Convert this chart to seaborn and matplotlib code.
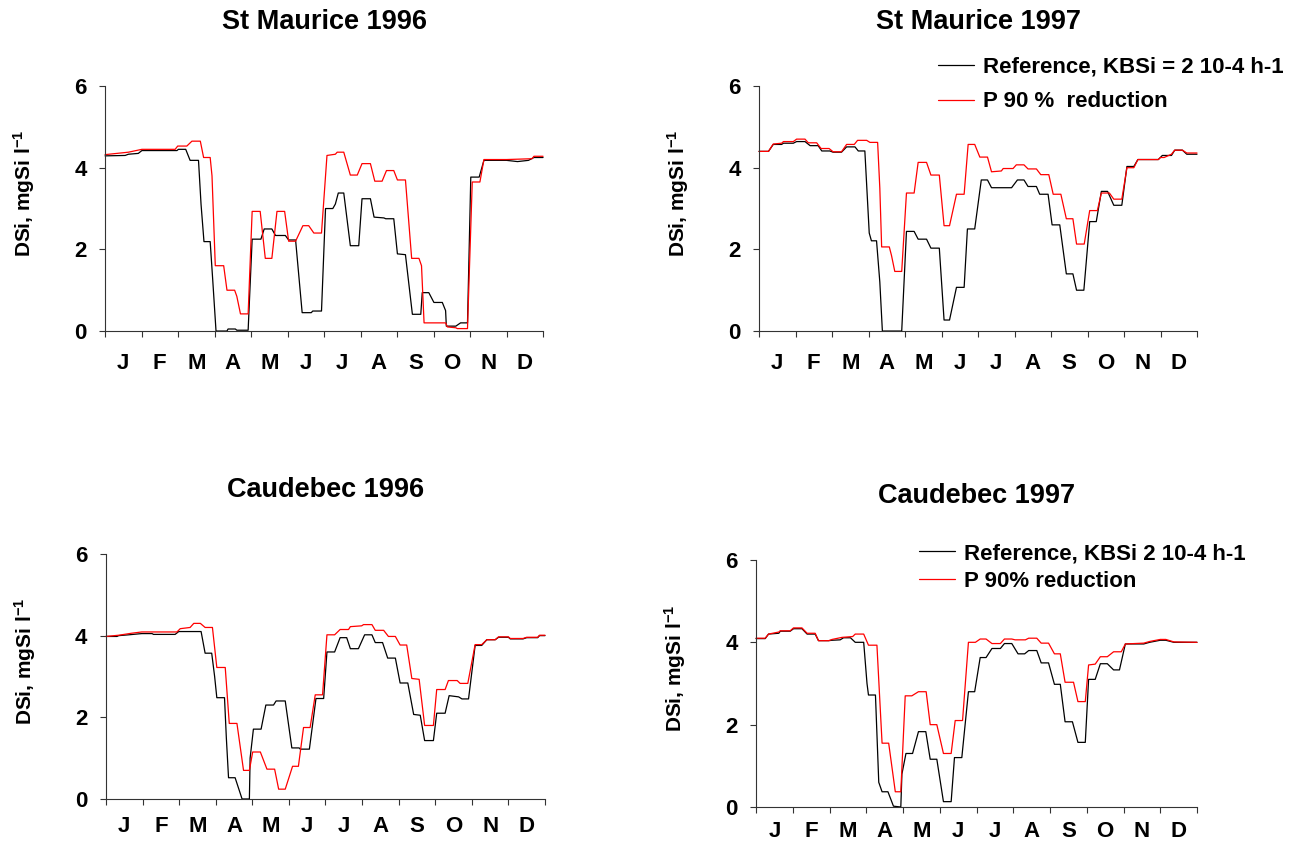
'''
DSi simulations, St Maurice / Caudebec, 1996-1997
'''

import matplotlib.pyplot as plt
import seaborn as sns

months = ['J', 'F', 'M', 'A', 'M', 'J', 'J', 'A', 'S', 'O', 'N', 'D']

# time in months from 1 January, DSi in mgSi/l

# St Maurice 1996
sm96_ref_t = [0, 0.55, 0.64, 0.91, 1.01, 1.97, 2.01, 2.21, 2.33, 2.56, 2.63, 2.71, 2.88, 2.95, 3.04,
              3.34, 3.37, 3.57, 3.61, 3.92, 4.03, 4.27, 4.36, 4.57, 4.67, 4.94, 5.03, 5.22, 5.40, 5.65,
              5.69, 5.93, 6.04, 6.24, 6.31, 6.39, 6.54, 6.72, 6.95, 7.04, 7.27, 7.37, 7.64, 7.69, 7.91,
              8.01, 8.23, 8.42, 8.65, 8.69, 8.87, 9.01, 9.24, 9.33, 9.35, 9.61, 9.74, 9.93, 10.02, 10.25,
              10.38, 11.0, 11.3, 11.6, 11.75, 12]
sm96_ref = [4.29, 4.30, 4.33, 4.35, 4.42, 4.42, 4.45, 4.45, 4.18, 4.18, 3.1, 2.19, 2.19, 1.25, 0,
            0, 0.05, 0.05, 0.02, 0.02, 2.25, 2.25, 2.5, 2.5, 2.34, 2.34, 2.23, 2.23, 0.45, 0.45,
            0.49, 0.49, 3.0, 3.0, 3.11, 3.38, 3.38, 2.09, 2.09, 3.24, 3.24, 2.79, 2.77, 2.75, 2.75,
            1.89, 1.87, 0.41, 0.41, 0.94, 0.94, 0.70, 0.70, 0.5, 0.12, 0.12, 0.2, 0.2, 3.77, 3.77,
            4.18, 4.18, 4.15, 4.18, 4.25, 4.25]
sm96_p90_t = [0, 0.32, 0.64, 1.01, 1.92, 1.99, 2.24, 2.38, 2.61, 2.70, 2.88, 2.93, 3.02, 3.25, 3.34,
              3.55, 3.61, 3.71, 3.92, 4.03, 4.25, 4.39, 4.57, 4.71, 4.92, 5.03, 5.22, 5.42, 5.58, 5.72,
              5.93, 6.08, 6.31, 6.36, 6.54, 6.72, 6.91, 7.04, 7.27, 7.39, 7.59, 7.71, 7.91, 8.01, 8.23,
              8.40, 8.60, 8.67, 8.74, 9.33, 9.38, 9.61, 9.65, 9.93, 10.06, 10.27, 10.38, 11.0, 11.7, 11.75,
              12]
sm96_p90 = [4.32, 4.35, 4.38, 4.45, 4.45, 4.53, 4.53, 4.65, 4.65, 4.25, 4.25, 3.8, 1.6, 1.6, 1.0,
            1.0, 0.85, 0.42, 0.42, 2.93, 2.93, 1.78, 1.78, 2.93, 2.93, 2.2, 2.2, 2.58, 2.58, 2.4,
            2.4, 4.3, 4.33, 4.38, 4.38, 3.82, 3.82, 4.1, 4.1, 3.67, 3.67, 3.93, 3.93, 3.7, 3.7,
            1.78, 1.78, 1.6, 0.2, 0.2, 0.1, 0.08, 0.06, 0.06, 3.65, 3.65, 4.2, 4.2, 4.22, 4.28,
            4.28]

# St Maurice 1997
sm97_ref_t = [0, 0.26, 0.39, 0.62, 0.67, 0.94, 1.03, 1.26, 1.40, 1.62, 1.72, 1.94, 2.03, 2.26, 2.40,
              2.63, 2.72, 2.90, 3.02, 3.08, 3.22, 3.31, 3.38, 3.91, 4.04, 4.25, 4.36, 4.59, 4.71, 4.94,
              5.07, 5.22, 5.41, 5.62, 5.71, 5.91, 6.09, 6.26, 6.37, 6.92, 7.08, 7.26, 7.37, 7.60, 7.69,
              7.92, 8.03, 8.24, 8.42, 8.60, 8.70, 8.90, 9.06, 9.24, 9.38, 9.55, 9.72, 9.94, 10.08, 10.27,
              10.38, 10.94, 11.05, 11.3, 11.39, 11.6, 11.72, 12]
sm97_ref = [4.40, 4.40, 4.57, 4.57, 4.60, 4.60, 4.64, 4.64, 4.54, 4.54, 4.41, 4.41, 4.38, 4.38, 4.51,
            4.51, 4.41, 4.41, 2.4, 2.21, 2.21, 1.2, 0, 0, 2.44, 2.44, 2.25, 2.25, 2.03, 2.03,
            0.27, 0.27, 1.07, 1.07, 2.5, 2.5, 3.7, 3.7, 3.51, 3.51, 3.7, 3.7, 3.54, 3.54, 3.35,
            3.35, 2.6, 2.6, 1.4, 1.4, 1.0, 1.0, 2.68, 2.68, 3.42, 3.42, 3.08, 3.08, 4.03, 4.03,
            4.2, 4.2, 4.3, 4.3, 4.43, 4.43, 4.33, 4.33]
sm97_p90_t = [0, 0.26, 0.39, 0.62, 0.67, 0.94, 1.03, 1.26, 1.35, 1.58, 1.70, 1.92, 2.03, 2.26, 2.40,
              2.61, 2.70, 2.95, 3.04, 3.25, 3.31, 3.36, 3.57, 3.63, 3.72, 3.91, 4.04, 4.25, 4.36, 4.59,
              4.71, 4.94, 5.07, 5.22, 5.41, 5.62, 5.73, 5.91, 6.05, 6.26, 6.37, 6.64, 6.69, 6.96, 7.05,
              7.26, 7.37, 7.60, 7.72, 7.94, 8.06, 8.27, 8.42, 8.60, 8.70, 8.91, 9.06, 9.27, 9.38, 9.60,
              9.72, 9.94, 10.08, 10.27, 10.38, 10.94, 11.0, 11.1, 11.3, 11.39, 11.6, 11.72, 12]
sm97_p90 = [4.40, 4.40, 4.58, 4.60, 4.64, 4.64, 4.70, 4.70, 4.61, 4.61, 4.47, 4.47, 4.39, 4.39, 4.57,
            4.57, 4.67, 4.67, 4.62, 4.62, 3.5, 2.06, 2.06, 1.85, 1.46, 1.46, 3.38, 3.38, 4.13, 4.13,
            3.82, 3.82, 2.58, 2.58, 3.35, 3.35, 4.57, 4.57, 4.26, 4.26, 3.9, 3.92, 3.98, 3.98, 4.07,
            4.07, 3.97, 3.97, 3.83, 3.83, 3.35, 3.35, 2.75, 2.75, 2.13, 2.13, 2.95, 2.95, 3.38, 3.38,
            3.23, 3.23, 4.0, 4.0, 4.2, 4.2, 4.25, 4.25, 4.33, 4.43, 4.43, 4.36, 4.36]

# Caudebec 1996
cb96_ref_t = [0, 0.30, 0.35, 0.62, 0.98, 1.26, 1.30, 1.89, 1.99, 2.60, 2.71, 2.89, 2.97, 3.03, 3.24,
              3.29, 3.35, 3.53, 3.72, 3.92, 3.94, 4.03, 4.24, 4.37, 4.58, 4.65, 4.90, 5.08, 5.28, 5.31,
              5.56, 5.74, 5.95, 6.04, 6.25, 6.40, 6.58, 6.68, 6.90, 7.07, 7.27, 7.36, 7.56, 7.70, 7.91,
              8.04, 8.25, 8.41, 8.59, 8.71, 8.95, 9.04, 9.27, 9.38, 9.64, 9.73, 9.91, 10.09, 10.27, 10.41,
              10.64, 10.73, 11.0, 11.05, 11.4, 11.5, 11.8, 11.85, 12]
cb96_ref = [3.98, 3.98, 4.0, 4.02, 4.05, 4.05, 4.03, 4.03, 4.1, 4.1, 3.57, 3.57, 3.0, 2.48, 2.48,
            1.5, 0.52, 0.52, 0, 0, 1.0, 1.71, 1.71, 2.3, 2.3, 2.4, 2.4, 1.25, 1.25, 1.22,
            1.22, 2.46, 2.46, 3.6, 3.6, 3.95, 3.95, 3.68, 3.68, 4.02, 4.02, 3.83, 3.83, 3.45, 3.45,
            2.84, 2.84, 2.07, 2.05, 1.43, 1.43, 2.1, 2.1, 2.53, 2.5, 2.45, 2.45, 3.76, 3.76, 3.9,
            3.9, 3.96, 3.96, 3.92, 3.92, 3.95, 3.95, 4.0, 4.0]
cb96_p90_t = [0, 0.35, 0.71, 0.98, 1.94, 2.03, 2.30, 2.40, 2.58, 2.71, 2.91, 3.03, 3.26, 3.37, 3.58,
              3.76, 3.92, 4.01, 4.22, 4.40, 4.61, 4.72, 4.90, 5.10, 5.26, 5.40, 5.58, 5.72, 5.92, 6.04,
              6.25, 6.40, 6.63, 6.68, 6.99, 7.04, 7.27, 7.36, 7.59, 7.72, 7.91, 8.04, 8.22, 8.36, 8.56,
              8.71, 8.95, 9.04, 9.27, 9.36, 9.60, 9.68, 9.89, 10.09, 10.27, 10.41, 10.64, 10.73, 11.0, 11.05,
              11.4, 11.5, 11.8, 11.85, 12]
cb96_p90 = [3.98, 4.01, 4.06, 4.09, 4.09, 4.17, 4.2, 4.3, 4.3, 4.2, 4.2, 3.22, 3.22, 1.85, 1.85,
            0.7, 0.7, 1.15, 1.15, 0.73, 0.73, 0.24, 0.24, 0.8, 0.8, 1.75, 1.75, 2.55, 2.55, 4.02,
            4.02, 4.15, 4.15, 4.22, 4.24, 4.27, 4.27, 4.13, 4.13, 3.98, 3.98, 3.77, 3.77, 2.95, 2.93,
            1.8, 1.8, 2.68, 2.68, 2.9, 2.9, 2.83, 2.83, 3.78, 3.78, 3.9, 3.9, 3.97, 3.97, 3.93,
            3.93, 3.96, 3.96, 4.01, 4.01]

# Caudebec 1997
cb97_ref_t = [0, 0.25, 0.34, 0.62, 0.66, 0.93, 1.02, 1.25, 1.39, 1.61, 1.70, 1.98, 2.07, 2.29, 2.38,
              2.57, 2.70, 2.93, 3.02, 3.06, 3.25, 3.34, 3.43, 3.59, 3.74, 3.94, 3.97, 4.08, 4.26, 4.42,
              4.62, 4.74, 4.92, 5.10, 5.31, 5.40, 5.60, 5.78, 5.95, 6.10, 6.26, 6.42, 6.65, 6.76, 6.96,
              7.13, 7.31, 7.42, 7.64, 7.76, 7.96, 8.12, 8.28, 8.41, 8.61, 8.76, 8.96, 9.05, 9.23, 9.37,
              9.56, 9.73, 9.89, 10.05, 10.55, 10.71, 11.0, 11.15, 11.37, 12]
cb97_ref = [4.09, 4.09, 4.2, 4.22, 4.27, 4.27, 4.33, 4.33, 4.2, 4.2, 4.04, 4.04, 4.05, 4.06, 4.11,
            4.11, 4.0, 4.0, 3.0, 2.72, 2.72, 0.6, 0.37, 0.37, 0.02, 0.0, 0.8, 1.3, 1.3, 1.83,
            1.83, 1.16, 1.16, 0.13, 0.13, 1.2, 1.2, 2.8, 2.8, 3.63, 3.63, 3.85, 3.85, 3.97, 3.97,
            3.72, 3.72, 3.8, 3.8, 3.5, 3.5, 2.98, 2.98, 2.07, 2.07, 1.57, 1.57, 3.1, 3.1, 3.48,
            3.48, 3.33, 3.33, 3.96, 3.96, 4.0, 4.05, 4.05, 4.0, 4.0]
cb97_p90_t = [0, 0.25, 0.34, 0.62, 0.66, 0.93, 1.02, 1.25, 1.39, 1.61, 1.70, 1.98, 2.07, 2.34, 2.63,
              2.70, 2.93, 3.06, 3.29, 3.43, 3.61, 3.79, 3.94, 4.06, 4.24, 4.42, 4.63, 4.74, 4.92, 5.10,
              5.31, 5.42, 5.62, 5.78, 5.97, 6.10, 6.26, 6.42, 6.65, 6.76, 6.96, 7.05, 7.33, 7.42, 7.64,
              7.76, 7.96, 8.12, 8.28, 8.41, 8.64, 8.76, 8.96, 9.05, 9.23, 9.37, 9.56, 9.73, 9.94, 10.05,
              10.55, 10.71, 11.0, 11.15, 11.37, 12]
cb97_p90 = [4.1, 4.1, 4.2, 4.25, 4.28, 4.28, 4.35, 4.35, 4.22, 4.22, 4.04, 4.04, 4.07, 4.12, 4.14,
            4.2, 4.2, 3.93, 3.93, 1.55, 1.55, 0.37, 0.37, 2.7, 2.7, 2.8, 2.8, 2.0, 2.0, 1.3,
            1.3, 2.1, 2.1, 4.0, 4.0, 4.08, 4.08, 3.97, 3.97, 4.08, 4.08, 4.06, 4.06, 4.1, 4.1,
            3.98, 3.98, 3.72, 3.72, 3.03, 3.03, 2.56, 2.56, 3.45, 3.47, 3.65, 3.65, 3.77, 3.77, 3.96,
            3.98, 4.02, 4.07, 4.07, 4.01, 4.0]

sns.set_style('ticks')
plt.rcParams['font.family'] = ['Liberation Sans', 'DejaVu Sans']
plt.rcParams['font.weight'] = 'bold'
plt.rcParams['text.color'] = 'black'
plt.rcParams['axes.labelcolor'] = 'black'
plt.rcParams['xtick.color'] = 'black'
plt.rcParams['ytick.color'] = 'black'
plt.rcParams['mathtext.fontset'] = 'custom'
plt.rcParams['mathtext.rm'] = 'Liberation Sans:bold'
plt.rcParams['mathtext.default'] = 'rm'

fig = plt.figure(figsize=(12.97, 8.46), dpi=100)

# (title, axes rect, series, legend labels, legend anchor, legend row spacing, month label pad)
panels = [
    ('St Maurice 1996', [0.0810, 0.6087, 0.3377, 0.2896],
     sm96_ref_t, sm96_ref, sm96_p90_t, sm96_p90, None, None, None, 16),
    ('St Maurice 1997', [0.5852, 0.6087, 0.3377, 0.2896],
     sm97_ref_t, sm97_ref, sm97_p90_t, sm97_p90,
     ['Reference, KBSi = 2 10-4 h-1', 'P 90 %  reduction'], (0.409, 1.12), 0.62, 16),
    ('Caudebec 1996', [0.0817, 0.0556, 0.3385, 0.2896],
     cb96_ref_t, cb96_ref, cb96_p90_t, cb96_p90, None, None, None, 12),
    ('Caudebec 1997', [0.5829, 0.0461, 0.3400, 0.2920],
     cb97_ref_t, cb97_ref, cb97_p90_t, cb97_p90,
     ['Reference, KBSi 2 10-4 h-1', 'P 90% reduction'], (0.370, 1.068), 0.30, 10),
]

for title, rect, rt, rv, pt, pv, labels, anchor, spacing, mpad in panels:
    ax = fig.add_axes(rect)
    sns.lineplot(x=rt, y=rv, ax=ax, color='black', linewidth=0.9, estimator=None,
                 clip_on=False, label=labels[0] if labels else None, legend=bool(labels))
    sns.lineplot(x=pt, y=pv, ax=ax, color='#ff0000', linewidth=0.9, estimator=None,
                 clip_on=False, label=labels[1] if labels else None, legend=bool(labels))

    ax.set_xlim(0, 12)
    ax.set_ylim(0, 6)
    ax.set_xticks(range(13))
    ax.set_xticklabels([])
    ax.set_xticks([i + 0.5 for i in range(12)], minor=True)
    ax.set_xticklabels(months, minor=True)
    ax.set_yticks([0, 2, 4, 6])
    ax.tick_params(axis='x', which='major', length=4.3, width=0.8, color='#333333')
    ax.tick_params(axis='x', which='minor', length=0, pad=mpad, labelsize=16)
    ax.tick_params(axis='y', length=4.3, width=0.8, color='#333333', pad=9, labelsize=16)
    for s in ['left', 'bottom']:
        ax.spines[s].set_color('#333333')
        ax.spines[s].set_linewidth(0.8)
    sns.despine(ax=ax)

    ax.set_xlabel('')
    ax.set_ylabel('DSi, mgSi l$^{-1}$', fontsize=15, fontweight='bold')
    ax.yaxis.set_label_coords(-0.155, 0.563)
    ax.set_title(title, fontsize=19.5, fontweight='bold', pad=41)

    if labels:
        ax.legend(loc='upper left', bbox_to_anchor=anchor, frameon=False, fontsize=16,
                  handlelength=1.6, handletextpad=0.4, borderpad=0, borderaxespad=0,
                  labelspacing=spacing)

fig.savefig('out.png', dpi=100)
